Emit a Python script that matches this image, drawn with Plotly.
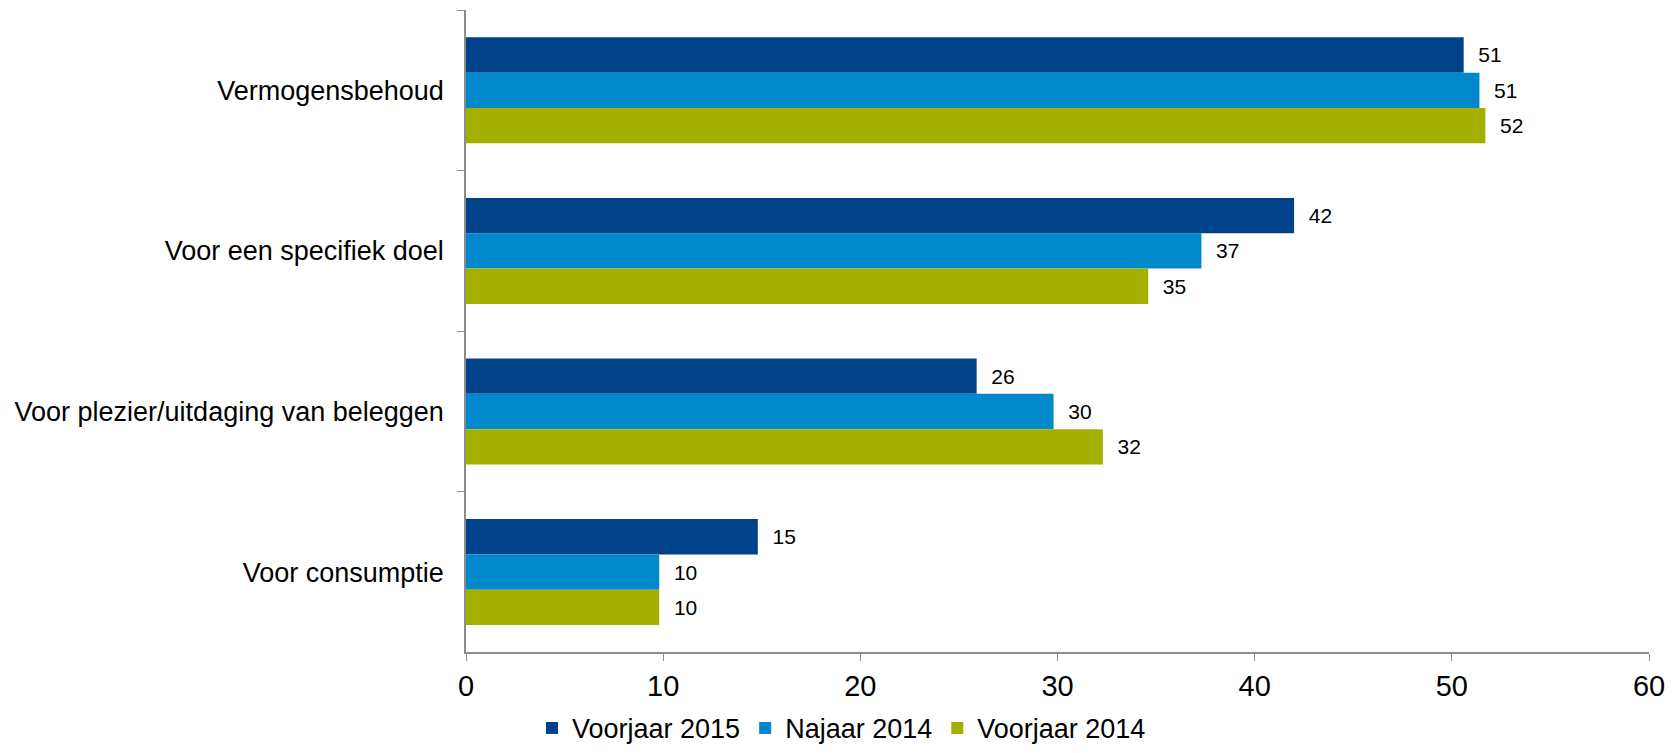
import plotly.graph_objects as go

# Categories (top to bottom) and series values
CATEGORIES = [
    "Vermogensbehoud",
    "Voor een specifiek doel",
    "Voor plezier/uitdaging van beleggen",
    "Voor consumptie",
]
VOORJAAR_2015 = [50.6, 42.0, 25.9, 14.8]
NAJAAR_2014 = [51.4, 37.3, 29.8, 9.8]
VOORJAAR_2014 = [51.7, 34.6, 32.3, 9.8]

SERIES = [
    ("Voorjaar 2015", VOORJAAR_2015, "#00428A"),
    ("Najaar 2014", NAJAAR_2014, "#0089CA"),
    ("Voorjaar 2014", VOORJAAR_2014, "#A3B000"),
]

X_TICKS = [0, 10, 20, 30, 40, 50, 60]

FONT = "Liberation Sans, Arial, sans-serif"
AXIS_GREY = "#8C8C8C"

fig = go.Figure()
for name, vals, color in SERIES:
    fig.add_trace(go.Bar(
        y=CATEGORIES,
        x=vals,
        name=name,
        orientation="h",
        marker=dict(color=color, line=dict(width=0)),
        texttemplate="  %{x:.0f}",
        textposition="outside",
        textfont=dict(family=FONT, size=21, color="#000000"),
        cliponaxis=False,
    ))

# page body has an 8px margin, so the figure is sized to the remaining area
fig.update_layout(
    width=1667,
    height=745,
    barmode="group",
    bargap=0.34,
    bargroupgap=0,
    paper_bgcolor="white",
    plot_bgcolor="white",
    font=dict(family=FONT, color="#000000"),
    margin=dict(l=458, r=26, t=2, b=98),
    showlegend=True,
    legend=dict(
        orientation="h",
        xref="container", yref="container",
        x=0.5, xanchor="center",
        y=0.033, yanchor="middle",
        font=dict(family=FONT, size=27, color="#000000"),
        traceorder="normal",
    ),
    xaxis=dict(
        range=[0, 60],
        tickvals=X_TICKS,
        showgrid=False,
        zeroline=False,
        showline=True,
        linecolor=AXIS_GREY,
        linewidth=1.5,
        ticks="outside",
        ticklen=7,
        tickcolor=AXIS_GREY,
        tickfont=dict(family=FONT, size=29, color="#000000"),
    ),
    yaxis=dict(
        autorange="reversed",
        showgrid=False,
        zeroline=False,
        showline=True,
        linecolor=AXIS_GREY,
        linewidth=1.5,
        ticks="outside",
        ticklen=7,
        tickcolor=AXIS_GREY,
        tickson="boundaries",
        ticklabelstandoff=15,
        tickfont=dict(family=FONT, size=27, color="#000000"),
    ),
)

fig.write_html("out.html")
